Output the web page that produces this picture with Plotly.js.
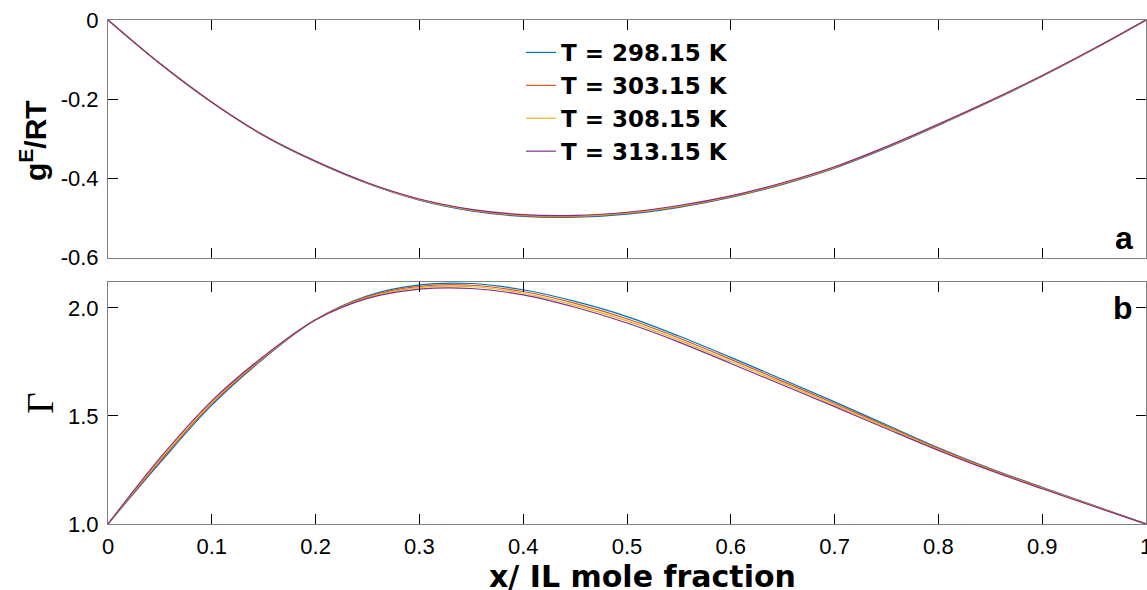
<!DOCTYPE html>
<html>
<head>
<meta charset="utf-8">
<script src="https://cdn.plot.ly/plotly-3.0.1.min.js"></script>
<style>html,body{margin:0;padding:0;background:#fff;}#chart{width:1147px;height:590px;}</style>
</head>
<body>
<div id="chart"></div>
<script>
// ---- data ----
const xMole = [0, 0.05, 0.1, 0.15, 0.2, 0.25, 0.3, 0.35, 0.4, 0.45, 0.5, 0.55, 0.6, 0.65, 0.7, 0.75, 0.8, 0.85, 0.9, 0.95, 1];

const seriesNames = ["T = 298.15 K", "T = 303.15 K", "T = 308.15 K", "T = 313.15 K"];

// (a) excess Gibbs energy gE/RT
const gE_298 = [0, -0.110, -0.2080, -0.2920, -0.3580, -0.4130, -0.4550, -0.4820, -0.4960, -0.4980, -0.4900, -0.4730, -0.4480, -0.4150, -0.3740, -0.3230, -0.2660, -0.2060, -0.1420, -0.0730, 0];
const gE_303 = [0, -0.110, -0.2078, -0.2917, -0.3575, -0.4123, -0.4540, -0.4807, -0.4945, -0.4965, -0.4885, -0.4715, -0.4467, -0.4137, -0.3728, -0.3219, -0.2650, -0.2052, -0.1413, -0.0727, 0];
const gE_308 = [0, -0.110, -0.2077, -0.2913, -0.3570, -0.4117, -0.4530, -0.4793, -0.4930, -0.4950, -0.4870, -0.4700, -0.4453, -0.4123, -0.3717, -0.3208, -0.2640, -0.2043, -0.1407, -0.0723, 0];
const gE_313 = [0, -0.110, -0.2075, -0.2910, -0.3565, -0.4110, -0.4520, -0.4780, -0.4915, -0.4935, -0.4855, -0.4685, -0.4440, -0.4110, -0.3705, -0.3197, -0.2630, -0.2035, -0.1400, -0.0720, 0];

// (b) thermodynamic factor Gamma
const G_298 = [1.000, 1.283, 1.550, 1.766, 1.945, 2.056, 2.107, 2.113, 2.084, 2.030, 1.960, 1.870, 1.771, 1.669, 1.565, 1.459, 1.353, 1.257, 1.170, 1.085, 1.000];
const G_303 = [1.000, 1.290, 1.557, 1.769, 1.945, 2.052, 2.100, 2.105, 2.076, 2.021, 1.950, 1.861, 1.762, 1.660, 1.558, 1.453, 1.349, 1.254, 1.168, 1.084, 1.000];
const G_308 = [1.000, 1.298, 1.563, 1.773, 1.945, 2.048, 2.094, 2.098, 2.068, 2.012, 1.940, 1.851, 1.752, 1.652, 1.550, 1.447, 1.345, 1.251, 1.165, 1.082, 1.000];
const G_313 = [1.000, 1.305, 1.570, 1.776, 1.945, 2.044, 2.087, 2.090, 2.060, 2.003, 1.930, 1.842, 1.743, 1.643, 1.543, 1.441, 1.341, 1.248, 1.163, 1.081, 1.000];

const xTickVals = [0, 0.1, 0.2, 0.3, 0.4, 0.5, 0.6, 0.7, 0.8, 0.9, 1];
const xTickText = ["0", "0.1", "0.2", "0.3", "0.4", "0.5", "0.6", "0.7", "0.8", "0.9", "1"];
const yTopTickVals = [-0.6, -0.4, -0.2, 0];
const yTopTickText = ["-0.6", "-0.4", "-0.2", "0"];
const yBotTickVals = [1.0, 1.5, 2.0];
const yBotTickText = ["1.0", "1.5", "2.0"];

// ---- styling ----
const colors = ["#0072BD", "#D95319", "#EDB120", "#7E2F8E"];
const gESeries = [gE_298, gE_303, gE_308, gE_313];
const GSeries = [G_298, G_303, G_308, G_313];

const traces = [];
gESeries.forEach((ys, i) => {
  traces.push({
    x: xMole, y: ys, xaxis: "x", yaxis: "y", type: "scatter", mode: "lines",
    name: seriesNames[i], legendgroup: "g" + i, showlegend: true,
    line: {color: colors[i], width: 1.2, shape: "spline", smoothing: 1}
  });
});
GSeries.forEach((ys, i) => {
  traces.push({
    x: xMole, y: ys, xaxis: "x2", yaxis: "y2", type: "scatter", mode: "lines",
    name: seriesNames[i], legendgroup: "g" + i, showlegend: false,
    line: {color: colors[i], width: 1.2, shape: "spline", smoothing: 1}
  });
});

const W = 1147, H = 590;
const xDom = [108 / W, 1146 / W];
const topDom = [1 - 257.6 / H, 1 - 20 / H];
const botDom = [1 - 524 / H, 1 - 282 / H];

const tickFont = {family: "Liberation Sans, Arial, sans-serif", size: 22, color: "#000"};
const axisCommon = {
  showline: true, linecolor: "#808080", linewidth: 1, mirror: "ticks",
  ticks: "inside", ticklen: 10, tickwidth: 1, tickcolor: "#000",
  showgrid: false, zeroline: false, automargin: false, tickfont: tickFont,
  ticklabeloverflow: "allow"
};

const layout = {
  width: W, height: H,
  margin: {l: 0, r: 0, t: 0, b: 0, pad: 0},
  paper_bgcolor: "#fff", plot_bgcolor: "#fff",
  showlegend: true,
  legend: {
    x: 521 / W, xanchor: "left", y: 1 - 31 / H, yanchor: "top",
    bgcolor: "rgba(0,0,0,0)", borderwidth: 0, tracegroupgap: 0,
    font: {family: "DejaVu Sans, sans-serif", size: 23, color: "#000", weight: "bold"}
  },
  xaxis: Object.assign({}, axisCommon, {
    domain: xDom, anchor: "y", range: [0, 1],
    tickmode: "array", tickvals: xTickVals, ticktext: xTickText, showticklabels: false
  }),
  yaxis: Object.assign({}, axisCommon, {
    domain: topDom, anchor: "x", range: [-0.6, 0],
    tickmode: "array", tickvals: yTopTickVals, ticktext: yTopTickText,
    ticklabelstandoff: 4
  }),
  xaxis2: Object.assign({}, axisCommon, {
    domain: xDom, anchor: "y2", range: [0, 1],
    tickmode: "array", tickvals: xTickVals, ticktext: xTickText,
    ticklabelstandoff: 3
  }),
  yaxis2: Object.assign({}, axisCommon, {
    domain: botDom, anchor: "x2", range: [1, 2.12],
    tickmode: "array", tickvals: yBotTickVals, ticktext: yBotTickText,
    ticklabelstandoff: 4,
    title: {text: "Γ", standoff: 3,
            font: {family: "Liberation Serif, Times New Roman, serif", size: 37, color: "#000"}}
  }),
  annotations: [
    {text: "g<sup>E</sup>/RT", xref: "paper", yref: "paper", x: 33 / W, xanchor: "center", y: 1 - 141 / H, yanchor: "middle",
     textangle: -90, showarrow: false,
     font: {family: "Liberation Sans, Arial, sans-serif", size: 30, color: "#000", weight: "bold"}},
    {text: "x/ IL mole fraction", xref: "paper", yref: "paper", x: 642 / W, xanchor: "center", y: 1 - 576 / H, yanchor: "middle",
     showarrow: false,
     font: {family: "DejaVu Sans, sans-serif", size: 30, color: "#000", weight: "bold"}},
    {text: "a", xref: "paper", yref: "paper", x: 1135 / W, xanchor: "right", y: 1 - 238 / H, yanchor: "middle",
     showarrow: false, font: {family: "Liberation Sans, Arial, sans-serif", size: 32, color: "#000", weight: "bold"}},
    {text: "b", xref: "paper", yref: "paper", x: 1135 / W, xanchor: "right", y: 1 - 308 / H, yanchor: "middle",
     showarrow: false, font: {family: "Liberation Sans, Arial, sans-serif", size: 32, color: "#000", weight: "bold"}}
  ]
};

Plotly.newPlot("chart", traces, layout, {staticPlot: true, displayModeBar: false});
</script>
</body>
</html>
